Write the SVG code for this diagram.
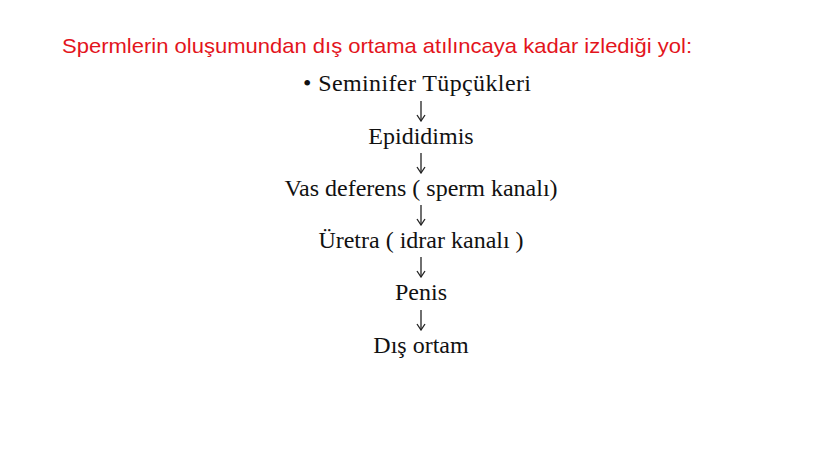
<svg xmlns="http://www.w3.org/2000/svg" width="828" height="466" viewBox="0 0 828 466">
<defs>
<marker id="ah" viewBox="0 0 10 10" refX="9" refY="5" markerWidth="10" markerHeight="10" markerUnits="userSpaceOnUse" orient="auto">
<path d="M3,1 L9,5 L3,9" fill="none" stroke="#222" stroke-width="1.3"/>
</marker>
</defs>
<style>
.t{font-family:"Liberation Serif","Times New Roman",serif;font-size:24px;fill:#111;text-anchor:middle}
.h{font-family:"Liberation Sans","Open Sans",sans-serif;font-size:21px;fill:#E3141C}
.c{stroke:#222;stroke-width:1.3;fill:none;marker-end:url(#ah)}
</style>
<rect width="828" height="466" fill="#fff"/>
<g id="title"><text class="h" x="62" y="53" textLength="630" lengthAdjust="spacingAndGlyphs">Spermlerin oluşumundan dış ortama atılıncaya kadar izlediği yol:</text></g>
<g id="n1"><text class="t" x="303" y="91" style="text-anchor:start" textLength="228" lengthAdjust="spacing">• Seminifer Tüpçükleri</text></g>
<g id="n2"><text class="t" x="421" y="144">Epididimis</text></g>
<g id="n3"><text class="t" x="421" y="196">Vas deferens ( sperm kanalı)</text></g>
<g id="n4"><text class="t" x="421" y="248">Üretra ( idrar kanalı )</text></g>
<g id="n5"><text class="t" x="421" y="300">Penis</text></g>
<g id="n6"><text class="t" x="421" y="353">Dış ortam</text></g>
<g id="connectors">
<path class="c" d="M421,101 V121"/>
<path class="c" d="M421,153 V173"/>
<path class="c" d="M421,205 V225"/>
<path class="c" d="M421,257 V277"/>
<path class="c" d="M421,310 V330"/>
</g>
</svg>
